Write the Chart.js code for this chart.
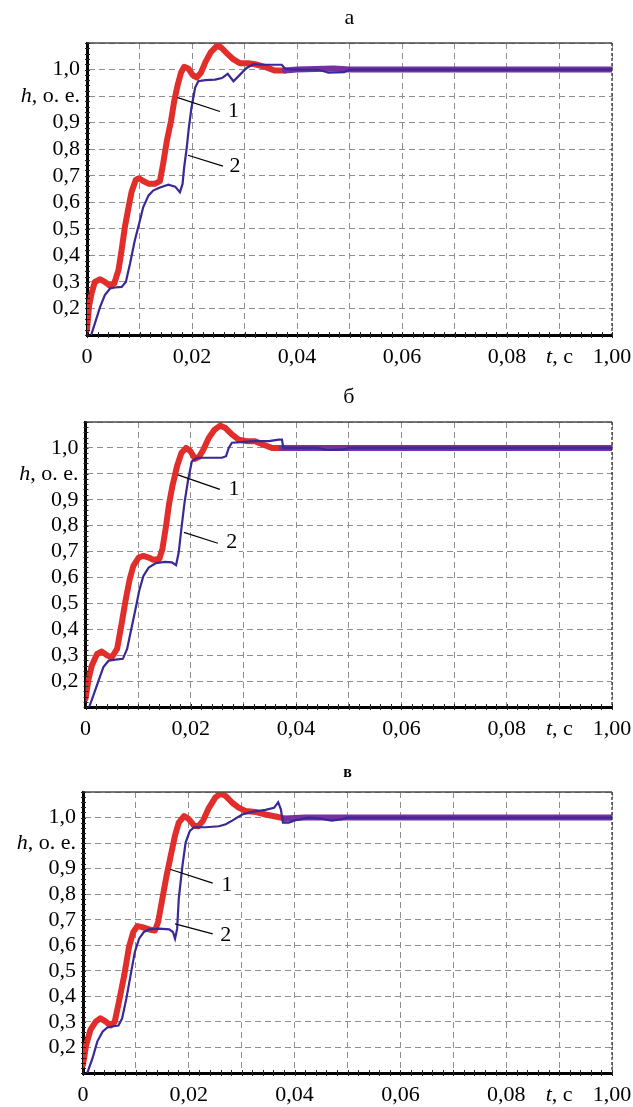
<!DOCTYPE html>
<html><head><meta charset="utf-8">
<script src="https://cdn.jsdelivr.net/npm/chart.js@4.4.1/dist/chart.umd.min.js"></script>
<style>
html,body{margin:0;padding:0;background:#fff;width:633px;height:1107px;overflow:hidden}
.p{position:absolute;left:0;width:633px}
</style></head><body>
<div class="p" style="top:0;height:375px"><canvas id="ca"></canvas></div>
<div class="p" style="top:375px;height:370px"><canvas id="cb"></canvas></div>
<div class="p" style="top:745px;height:362px"><canvas id="cc"></canvas></div>
<script>
// ---- tick labels ----
const xTickLabels = ['0','','0,02','','0,04','','0,06','','0,08','t, c','1,00'];
const yTickLabels = ['','0,2','0,3','0,4','0,5','0,6','0,7','0,8','0,9','h, o. e.','1,0',''];
const panelTitles = ['а','б','в'];

// ---- series: [t, s ; h, o.e.] ----
const aCurve1 = [[0,0.12],[0.0004,0.21],[0.0009,0.26],[0.0015,0.30],[0.0025,0.31],[0.0034,0.30],[0.0044,0.285],[0.0052,0.295],[0.006,0.345],[0.0066,0.42],[0.0072,0.505],[0.0079,0.58],[0.0085,0.64],[0.0093,0.685],[0.0099,0.69],[0.0107,0.68],[0.0117,0.67],[0.013,0.67],[0.0139,0.68],[0.0145,0.745],[0.0152,0.83],[0.016,0.903],[0.0166,0.94],[0.0173,0.972],[0.0179,0.994],[0.0185,1.005],[0.0193,1.002],[0.0201,0.99],[0.0209,0.985],[0.0217,0.994],[0.0226,1.015],[0.0236,1.033],[0.0247,1.044],[0.0255,1.042],[0.0266,1.031],[0.0279,1.019],[0.0291,1.012],[0.0307,1.012],[0.032,1.01],[0.0339,1.005],[0.0358,0.998],[0.0377,0.998],[0.04,1.0],[0.047,1.002],[0.05,1.0],[0.1,1.0]];
const aCurve2 = [[0.0008,0.1],[0.0015,0.144],[0.0025,0.206],[0.0034,0.25],[0.0044,0.275],[0.0053,0.279],[0.0066,0.281],[0.0074,0.30],[0.0082,0.369],[0.0091,0.456],[0.01,0.525],[0.0107,0.581],[0.0117,0.625],[0.0126,0.644],[0.0139,0.656],[0.0155,0.666],[0.0168,0.659],[0.0177,0.638],[0.0182,0.669],[0.0185,0.731],[0.019,0.806],[0.0194,0.881],[0.0199,0.928],[0.0206,0.966],[0.0212,0.978],[0.0225,0.98],[0.0244,0.981],[0.0257,0.984],[0.0268,0.992],[0.0279,0.978],[0.0291,0.99],[0.0304,1.003],[0.0317,1.01],[0.0333,1.009],[0.0352,1.009],[0.0371,1.009],[0.0377,1.002],[0.039,1.0],[0.044,1.0],[0.046,0.994],[0.049,0.995],[0.05,1.0],[0.1,1.0]];

const bCurve1 = [[0,0.132],[0.0006,0.209],[0.0012,0.26],[0.0022,0.305],[0.0031,0.314],[0.0041,0.299],[0.005,0.292],[0.006,0.324],[0.0068,0.414],[0.0076,0.51],[0.0084,0.594],[0.0091,0.645],[0.0101,0.677],[0.011,0.683],[0.012,0.677],[0.0129,0.668],[0.014,0.671],[0.0146,0.709],[0.0153,0.799],[0.0159,0.888],[0.0165,0.926],[0.0174,0.965],[0.0182,0.99],[0.0191,1.0],[0.0199,0.994],[0.0208,0.979],[0.0216,0.983],[0.0224,0.997],[0.0234,1.019],[0.0245,1.035],[0.0256,1.043],[0.0265,1.039],[0.0278,1.026],[0.0291,1.016],[0.0306,1.013],[0.0322,1.013],[0.0338,1.006],[0.0354,1.0],[0.0373,1.0],[0.1,1.0]];
const bCurve2 = [[0.0007,0.1],[0.0015,0.145],[0.0025,0.203],[0.0034,0.254],[0.0044,0.279],[0.0057,0.283],[0.0071,0.286],[0.0079,0.324],[0.0087,0.401],[0.0095,0.478],[0.0102,0.549],[0.011,0.606],[0.012,0.638],[0.0133,0.655],[0.0151,0.66],[0.0164,0.658],[0.0172,0.647],[0.0177,0.696],[0.0182,0.786],[0.0188,0.888],[0.0195,0.939],[0.0202,0.974],[0.0212,0.981],[0.0234,0.981],[0.0259,0.981],[0.0267,0.984],[0.0272,1.0],[0.0278,1.01],[0.0297,1.011],[0.0322,1.013],[0.0348,1.013],[0.0367,1.016],[0.0373,1.016],[0.0376,1.0],[0.044,1.0],[0.046,0.996],[0.049,0.997],[0.05,1.0],[0.1,1.0]];

const cCurve1 = [[0,0.132],[0.0006,0.21],[0.0014,0.269],[0.0024,0.301],[0.0033,0.314],[0.0043,0.301],[0.0052,0.286],[0.006,0.301],[0.0068,0.379],[0.0078,0.483],[0.0087,0.594],[0.0095,0.652],[0.0103,0.675],[0.0112,0.671],[0.0125,0.662],[0.0136,0.658],[0.0142,0.691],[0.015,0.782],[0.0158,0.873],[0.0166,0.926],[0.0174,0.965],[0.0181,0.99],[0.0191,1.003],[0.02,0.997],[0.021,0.984],[0.0218,0.983],[0.0227,0.994],[0.0238,1.019],[0.025,1.039],[0.026,1.047],[0.027,1.042],[0.0282,1.029],[0.0295,1.019],[0.0307,1.013],[0.0326,1.011],[0.0345,1.006],[0.0364,1.002],[0.0383,0.998],[0.042,1.0],[0.1,1.0]];
const cCurve2 = [[0.0008,0.1],[0.0018,0.158],[0.0027,0.223],[0.0037,0.262],[0.0046,0.278],[0.0055,0.282],[0.0067,0.286],[0.0074,0.314],[0.0082,0.392],[0.009,0.483],[0.0098,0.574],[0.0106,0.626],[0.0115,0.652],[0.0125,0.662],[0.0144,0.665],[0.0163,0.662],[0.017,0.652],[0.0174,0.626],[0.0178,0.665],[0.0181,0.782],[0.0188,0.906],[0.0194,0.951],[0.0202,0.974],[0.021,0.981],[0.0232,0.981],[0.0257,0.983],[0.027,0.987],[0.0282,0.994],[0.0301,1.006],[0.032,1.011],[0.0345,1.015],[0.0361,1.019],[0.0369,1.03],[0.0374,1.016],[0.0378,0.99],[0.0389,0.99],[0.0402,0.995],[0.0427,1.0],[0.045,0.998],[0.047,0.994],[0.049,0.997],[0.05,1.0],[0.1,1.0]];

// ---- curve number callouts: [t1,h1, t2,h2, tLabel,hLabel, text] ----
const aCallouts = [[0.01714,0.9475,0.02533,0.921,0.0279,0.923,'1'],[0.01924,0.777,0.0259,0.736,0.0282,0.739,'2']];
const bCallouts = [[0.01755,0.948,0.02552,0.92,0.0282,0.9215,'1'],[0.01869,0.774,0.02514,0.732,0.0278,0.74,'2']];
const cCallouts = [[0.01645,0.8977,0.02452,0.8432,0.0272,0.8393,'1'],[0.0174,0.6837,0.02452,0.6447,0.0270,0.6447,'2']];

// The printed axis gives the 0,9 -> 1,0 step two grid cells; map h onto grid units.
function toAxis(h){ return h <= 0.9 ? h : 0.9 + 2*(h - 0.9); }

const SERIF = '"Liberation Serif","Times New Roman",serif';
const FS = 22;
const RED = 'rgb(226,46,42)';
const OVERLAP = 'rgb(118,48,160)';   // where curves 1 and 2 coincide the print shows purple
const BLUE = 'rgb(58,40,150)';

function deco(opt, callouts){
  return {
    id: 'deco',
    afterDraw(chart){
      const {ctx, chartArea: a, scales: {x, y}} = chart;
      ctx.save();
      ctx.strokeStyle = '#4a4a4a'; ctx.lineWidth = 1.6;
      ctx.beginPath(); ctx.moveTo(a.left, a.top); ctx.lineTo(a.right, a.top); ctx.stroke();
      ctx.setLineDash([3,2]); ctx.strokeStyle = '#333'; ctx.lineWidth = 1.3;
      ctx.beginPath(); ctx.moveTo(a.right, a.top); ctx.lineTo(a.right, a.bottom); ctx.stroke();
      ctx.setLineDash([]);
      ctx.strokeStyle = '#222'; ctx.lineWidth = 1;
      ctx.beginPath();
      for (let i = 0; i <= 50; i++){ const px = Math.round(x.getPixelForValue(i*0.002)) + 0.5; ctx.moveTo(px, a.bottom - 3); ctx.lineTo(px, a.bottom + 3); }
      for (let i = 5; i <= 60; i++){ const py = Math.round(y.getPixelForValue(i*0.02)) + 0.5; ctx.moveTo(a.left - 2, py); ctx.lineTo(a.left + 3, py); }
      ctx.stroke();
      ctx.fillStyle = '#000';
      ctx.font = opt.titleFont; ctx.textAlign = 'center'; ctx.textBaseline = 'middle';
      ctx.fillText(opt.title, (a.left + a.right)/2, opt.titleY);
      const normal = FS + 'px ' + SERIF, ital = 'italic ' + FS + 'px ' + SERIF;
      const yh = y.getPixelForValue(1.0);
      const xr = a.left - y.options.ticks.padding;
      const yl = yTickLabels[9], yRest = yl.slice(1);
      ctx.textAlign = 'left';
      ctx.font = normal; const w1 = ctx.measureText(yRest).width;
      ctx.font = ital; const w0 = ctx.measureText(yl[0]).width;
      ctx.fillText(yl[0], xr - w1 - w0, yh);
      ctx.font = normal; ctx.fillText(yRest, xr - w1, yh);
      const xl = xTickLabels[9], xRest = xl.slice(1);
      const xc = x.getPixelForValue(0.09);
      const yt = x.top + x.options.ticks.padding + FS*1.2/2;
      ctx.font = normal; const v1 = ctx.measureText(xRest).width;
      ctx.font = ital; const v0 = ctx.measureText(xl[0]).width;
      const x0 = xc - (v0 + v1)/2;
      ctx.fillText(xl[0], x0, yt);
      ctx.font = normal; ctx.fillText(xRest, x0 + v0, yt);
      ctx.strokeStyle = '#000'; ctx.lineWidth = 1.2;
      ctx.textAlign = 'center';
      for (const c of callouts){
        const p1x = x.getPixelForValue(c[0]), p1y = y.getPixelForValue(toAxis(c[1]));
        const p2x = x.getPixelForValue(c[2]), p2y = y.getPixelForValue(toAxis(c[3]));
        ctx.beginPath(); ctx.moveTo(p1x, p1y); ctx.lineTo(p2x, p2y); ctx.stroke();
        const lx = x.getPixelForValue(c[4]), ly = y.getPixelForValue(toAxis(c[5]));
        ctx.fillStyle = '#fff'; ctx.fillRect(lx - 7, ly - 11, 14, 22);
        ctx.fillStyle = '#000'; ctx.font = normal; ctx.fillText(c[6], lx, ly + 1);
      }
      ctx.restore();
    }
  };
}

function makeChart(id, red, blue, callouts, opt){
  const gridOpts = { color: '#8e8e8e', lineWidth: 1, drawTicks: false };
  const borderOpts = { display: true, color: '#000', width: 3, dash: [6,4] };
  return new Chart(document.getElementById(id), {
    type: 'line',
    data: { datasets: [
      { label: '1', order: 2, data: red.map(p => ({x: p[0], y: toAxis(p[1])})), borderColor: RED, borderWidth: 6, pointRadius: 0, tension: 0, fill: false,
        borderJoinStyle: 'round', borderCapStyle: 'round',
        segment: { borderColor: c => (c.p0.parsed.x >= opt.merge ? OVERLAP : undefined) } },
      { label: '2', order: 1, data: blue.map(p => ({x: p[0], y: toAxis(p[1])})), borderColor: BLUE, borderWidth: 2.2, pointRadius: 0, tension: 0, fill: false }
    ]},
    options: {
      responsive: true, maintainAspectRatio: false, animation: false,
      layout: { padding: { top: opt.top, right: 633 - opt.right, left: 0, bottom: 0 } },
      plugins: { legend: { display: false }, tooltip: { enabled: false }, title: { display: false } },
      scales: {
        x: {
          type: 'linear', min: 0, max: 0.1,
          ticks: { stepSize: 0.01, autoSkip: false, maxRotation: 0, padding: 9, color: '#000',
                   font: { family: SERIF, size: FS },
                   callback: v => { const i = Math.round(v*100); return i === 9 ? '' : (xTickLabels[i] ?? ''); } },
          grid: gridOpts, border: borderOpts,
          afterFit: s => { s.height = opt.xh; s.paddingLeft = 0; s.paddingRight = 0; }
        },
        y: {
          type: 'linear', min: 0.1, max: 1.2,
          ticks: { stepSize: 0.1, autoSkip: false, padding: 7, color: '#000',
                   font: { family: SERIF, size: FS },
                   callback: v => { const i = Math.round(v*10) - 1; return i === 9 ? '' : (yTickLabels[i] ?? ''); } },
          grid: gridOpts, border: borderOpts,
          afterFit: s => { s.width = opt.left; s.paddingTop = 0; s.paddingBottom = 0; }
        }
      }
    },
    plugins: [deco(opt, callouts)]
  });
}

makeChart('ca', aCurve1, aCurve2, aCallouts, { left: 87, right: 612, top: 43, xh: 40, merge: 0.0377, title: panelTitles[0], titleY: 18, titleFont: FS + 'px ' + SERIF });
makeChart('cb', bCurve1, bCurve2, bCallouts, { left: 85.5, right: 612, top: 47, xh: 38, merge: 0.0373, title: panelTitles[1], titleY: 22, titleFont: FS + 'px ' + SERIF });
makeChart('cc', cCurve1, cCurve2, cCallouts, { left: 83, right: 612, top: 47, xh: 34, merge: 0.0383, title: panelTitles[2], titleY: 28, titleFont: 'bold 16px ' + SERIF });
</script>
</body></html>
